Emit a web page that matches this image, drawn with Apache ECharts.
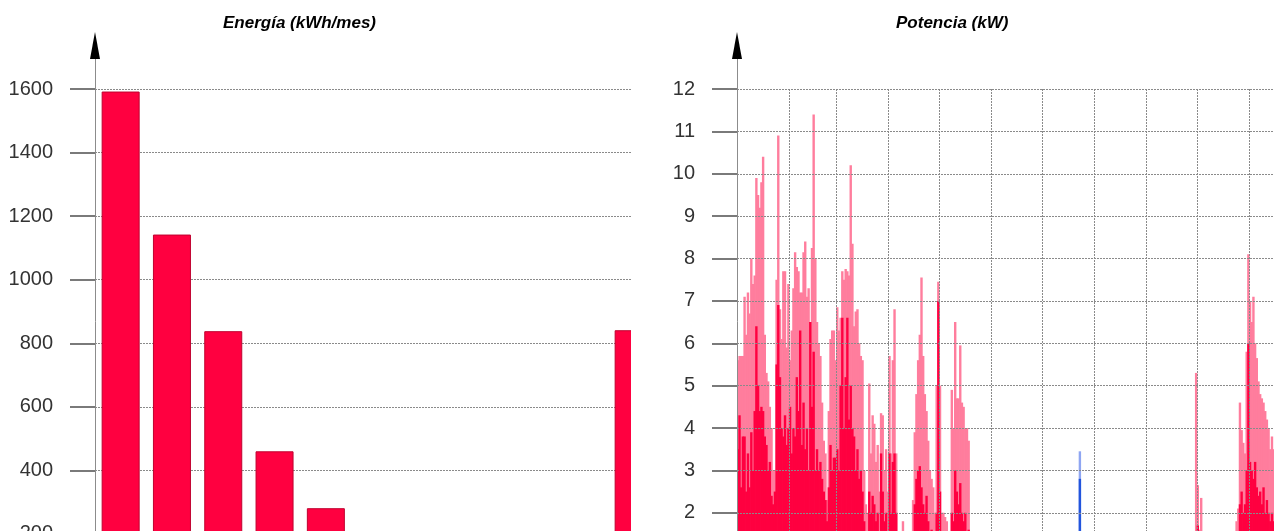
<!DOCTYPE html>
<html><head><meta charset="utf-8">
<script src="https://cdn.jsdelivr.net/npm/echarts/dist/echarts.min.js"></script>
<style>
html,body{margin:0;padding:0;background:#fff;overflow:hidden;width:1274px;height:531px;}
#izq{position:absolute;left:0;top:0;width:631px;height:700px;overflow:hidden;}
#der{position:absolute;left:640px;top:0;width:634px;height:700px;overflow:hidden;}
#chartIzq{width:760px;height:700px;}
#chartDer{width:800px;height:700px;}
</style></head><body>
<div id="izq"><div id="chartIzq"></div></div>
<div id="der"><div id="chartDer"></div></div>
<script>
// ---------- DATA ----------
const meses = ['Ene','Feb','Mar','Abr','May','Jun','Jul','Ago','Sep','Oct','Nov','Dic'];
const energiaMensual = [1592, 1142, 838, 460, 281, 0, 4, 0, 0, 55, 841, 1300];
const ticksEnergia = [0, 200, 400, 600, 800, 1000, 1200, 1400, 1600];
const ticksPotencia = [0,1,2,3,4,5,6,7,8,9,10,11,12];
const diasPorMes = [31,28,31,30,31,30,31,31,30,31,30,31];

// potencia: daily peak (light) and daily dense level (saturated), per month
const picoEne = [5.6,5.7,5.7,5.7,7.1,6.2,7.2,6.7,8.0,7.4,7.6,9.9,9.5,9.2,9.8,10.4,6.2,5.3,5.1,4.5,4.0,3.0,3.0,7.5,10.9,6.8,6.1,7.7,7.7,5.9,7.4];
const baseEne = [3.5,4.3,2.6,3.8,3.8,2.5,3.4,2.6,3.9,3.0,4.4,6.4,5.0,4.4,4.5,4.4,3.8,3.6,3.0,3.2,2.4,2.2,2.5,5.5,6.9,5.2,4.0,3.8,4.3,3.6,4.0];
const picoFeb = [5.6,6.3,7.3,8.15,7.8,7.7,7.2,7.2,8.15,8.4,7.1,7.3,6.5,8.25,11.4,8.0,6.5,6.0,5.7,4.6,3.7,3.4,2.3,4.4,6.1,6.3,6.3,5.6];
const baseFeb = [4.5,3.4,4.0,3.8,5.2,4.4,6.3,3.6,4.6,3.5,4.0,3.0,6.5,4.5,5.8,3.0,3.5,3.0,3.2,2.8,2.5,2.3,1.8,2.6,3.6,3.0,3.3,3.3];
const picoMar = [6.85,6.3,6.6,7.7,7.5,7.75,7.7,7.6,10.2,8.35,6.4,6.75,6.8,6.0,5.7,5.6,3.0,2.2,2.0,5.05,3.4,4.3,4.1,3.2,3.6,2.5,4.35,4.3,3.0,3.5,2.5];
const baseMar = [3.5,3.0,5.0,6.6,4.0,5.2,6.6,4.2,5.0,4.0,3.8,3.0,3.5,2.8,3.0,2.5,1.8,1.2,1.2,2.5,2.0,2.4,2.2,1.8,2.0,1.5,3.4,2.5,1.8,2.0,1.5];
const picoAbr = [5.7,3.4,5.6,6.8,3.4,1.2,0.5,0.8,1.8,0,0.6,1.0,0.4,1.3,2.3,3.9,4.8,5.6,6.2,7.55,5.7,4.8,4.4,3.7,3.0,2.8,2.6,2.0,5.0,7.45];
const baseAbr = [3.4,2.0,3.2,3.4,2.0,0.8,0.3,0.5,1.0,0,0.4,0.6,0.2,0.8,1.5,2.2,2.8,3.0,3.1,2.6,2.2,2.0,2.4,1.8,1.5,1.6,1.5,1.2,2.0,7.0];
const picoMay = [5.0,2.0,2.0,1.9,1.8,1.2,0.5,4.9,4.0,6.5,4.7,4.7,5.95,4.6,4.5,4.0,4.0,3.7,0.5,0,0,0,0,0,0,0,0,0,0,0,0];
const baseMay = [2.5,1.4,1.3,1.2,1.0,0.8,0.3,2.0,1.8,3.0,2.5,2.2,2.7,2.0,1.8,2.0,1.5,1.6,0.3,0,0,0,0,0,0,0,0,0,0,0,0];
const picoSep = [0,0,0,0,0,0,0,0,0,0,0,0,0,0,0,0,0,0,0,0,0,0,0,0,0,0,0,0,0,5.3];
const baseSep = [0,0,0,0,0,0,0,0,0,0,0,0,0,0,0,0,0,0,0,0,0,0,0,0,0,0,0,0,0,1.0];
const picoOct = [2.65,1.6,2.35,1.4,0.6,0,0,0,0,0,0,0,0,0,0,0,0,0,0,0,0,0,0.8,1.8,2.1,4.6,3.95,3.65,3.4,5.8,8.1];
const baseOct = [1.7,0.9,1.5,0.8,0.3,0,0,0,0,0,0,0,0,0,0,0,0,0,0,0,0,0,0.4,1.0,1.4,2.2,2.5,2.0,2.2,3.0,6.0];
const picoNov = [7.0,6.5,7.1,6.0,5.65,5.1,4.8,4.7,4.6,4.4,4.2,4.0,3.5,3.8,3.5];
const baseNov = [3.2,3.0,2.8,3.2,2.6,2.4,2.5,2.2,2.6,2.0,2.3,2.0,1.8,2.0,1.8];
// second (blue) series, July
const picoAzulJul = [0,0,0,0,0,0,0,0,0,0,0,0,0,0,0,0,0,0,0,0,0,0,3.45,0,0,0,0,0,0,0,0];
const baseAzulJul = [0,0,0,0,0,0,0,0,0,0,0,0,0,0,0,0,0,0,0,0,0,0,2.8,0,0,0,0,0,0,0,0];

// ---------- build yearly daily series ----------
function anual(porMes){
  const out = [];
  porMes.forEach((arr, m) => {
    for (let d = 0; d < diasPorMes[m]; d++) out.push(arr && d < arr.length ? arr[d] : null);
  });
  return out;
}
const picoRojo = anual([picoEne,picoFeb,picoMar,picoAbr,picoMay,null,null,null,picoSep,picoOct,picoNov,null]);
const baseRojo = anual([baseEne,baseFeb,baseMar,baseAbr,baseMay,null,null,null,baseSep,baseOct,baseNov,null]);
const picoAzul = anual([null,null,null,null,null,null,picoAzulJul,null,null,null,null,null]);
const baseAzul = anual([null,null,null,null,null,null,baseAzulJul,null,null,null,null,null]);
const dias = [], inicioMes = {};
let acc = 0;
diasPorMes.forEach((n, m) => { inicioMes[acc] = meses[m]; for (let d = 1; d <= n; d++) dias.push(meses[m] + ' ' + d); acc += n; });

// ---------- common styles ----------
const FONT = '"Liberation Sans", Arial, sans-serif';
const ALTO = 700, CERO_Y = 597.5, TOPE_Y = 89, PUNTA_Y = 45.5;
const rejilla = {color:'#8a8a8a', type:[2,1], width:1};
const estiloTitulo = {fontSize:17, fontStyle:'italic', fontWeight:'bold', color:'#000', fontFamily:FONT};

function ejeY(min, max, interval){
  return {
    gridIndex:0, type:'value', min:min, max:max, interval:interval,
    axisLine:{show:false},
    axisTick:{show:true, length:25, lineStyle:{color:'#7a7a7a', width:2}},
    axisLabel:{margin:42, fontSize:20, color:'#333', fontFamily:FONT, formatter:(v) => String(v)},
    splitLine:{show:true, lineStyle:rejilla}
  };
}
function gridsFlecha(left){
  return [
    {left:left, width:10, top:PUNTA_Y, bottom:ALTO-CERO_Y},
    {left:left, width:10, top:PUNTA_Y, height:1}
  ];
}
const xFlecha = [
  {gridIndex:1, type:'value', show:false, splitLine:{show:false}},
  {gridIndex:2, type:'value', show:false, splitLine:{show:false}}
];
const yFlecha = [
  {gridIndex:1, type:'value', min:0, max:1, axisLine:{show:true, onZero:false, lineStyle:{color:'#8c8c8c', width:1}}, axisTick:{show:false}, axisLabel:{show:false}, splitLine:{show:false}},
  {gridIndex:2, type:'value', min:0, max:1, axisLine:{show:true, onZero:false, symbol:['none','triangle'], symbolSize:[10,27], lineStyle:{color:'#000', width:1}}, axisTick:{show:false}, axisLabel:{show:false}, splitLine:{show:false}}
];

// ---------- left chart: energy ----------
const chartIzq = echarts.init(document.getElementById('chartIzq'), null, {renderer:'canvas'});
chartIzq.setOption({
  animation:false,
  backgroundColor:'#fff',
  title:{text:'Energía (kWh/mes)', left:223, top:15, padding:0, textStyle:estiloTitulo},
  grid:[{left:95, width:615.6, top:TOPE_Y, bottom:ALTO-CERO_Y}].concat(gridsFlecha(95)),
  xAxis:[{gridIndex:0, type:'category', data:meses,
          axisLine:{lineStyle:{color:'#8c8c8c'}}, axisTick:{show:false},
          axisLabel:{fontSize:20, color:'#333', fontFamily:FONT}, splitLine:{show:false}}].concat(xFlecha),
  yAxis:[ejeY(ticksEnergia[0], ticksEnergia[ticksEnergia.length-1], ticksEnergia[1]-ticksEnergia[0])].concat(yFlecha),
  series:[{
    type:'bar', xAxisIndex:0, yAxisIndex:0, data:energiaMensual, barWidth:38,
    itemStyle:{color:'#ff0040', borderColor:'#c0002e', borderWidth:1}, silent:true
  }]
});

// ---------- right chart: power ----------
const chartDer = echarts.init(document.getElementById('chartDer'), null, {renderer:'canvas'});
const barraDia = {type:'bar', xAxisIndex:0, yAxisIndex:0, barWidth:2.4, barGap:'-100%', silent:true};
chartDer.setOption({
  animation:false,
  backgroundColor:'#fff',
  title:{text:'Potencia (kW)', left:256, top:15, padding:0, textStyle:estiloTitulo},
  grid:[{left:97, width:615, top:TOPE_Y, bottom:ALTO-CERO_Y}].concat(gridsFlecha(97)),
  xAxis:[{gridIndex:0, type:'category', data:dias, boundaryGap:true,
          axisLine:{lineStyle:{color:'#8c8c8c'}}, axisTick:{show:false},
          axisLabel:{fontSize:20, color:'#333', fontFamily:FONT, interval:(i) => i in inicioMes, formatter:(v) => v.split(' ')[0]},
          splitLine:{show:true, interval:(i) => (i in inicioMes) && i > 0, lineStyle:rejilla}}].concat(xFlecha),
  yAxis:[ejeY(ticksPotencia[0], ticksPotencia[ticksPotencia.length-1], ticksPotencia[1]-ticksPotencia[0])].concat(yFlecha),
  series:[
    Object.assign({}, barraDia, {name:'pico', data:picoRojo, z:-2, itemStyle:{color:'#ff7d9d'}}),
    Object.assign({}, barraDia, {name:'base', data:baseRojo, z:-1, itemStyle:{color:'#ff0040'}}),
    Object.assign({}, barraDia, {name:'picoAzul', data:picoAzul, z:-2, itemStyle:{color:'#8fa6f2'}}),
    Object.assign({}, barraDia, {name:'baseAzul', data:baseAzul, z:-1, itemStyle:{color:'#2255dd'}})
  ]
});
</script></body></html>
